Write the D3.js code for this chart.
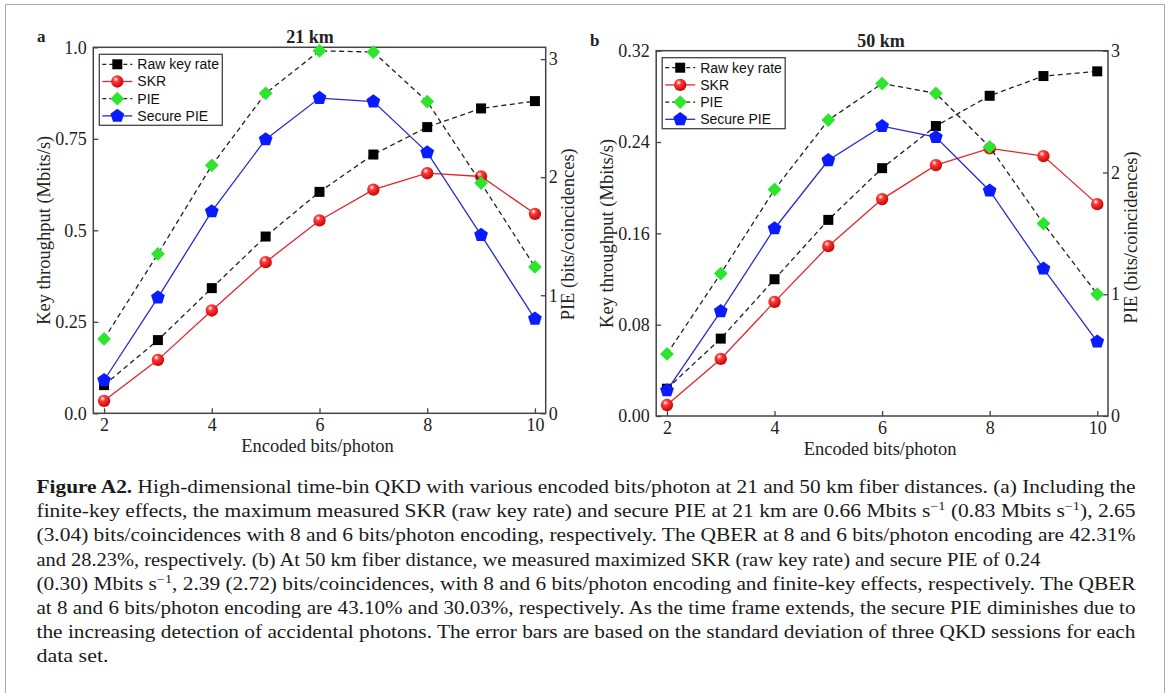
<!DOCTYPE html>
<html>
<head>
<meta charset="utf-8">
<script src="https://cdn.jsdelivr.net/npm/d3@7"></script>
<style>
  body { margin: 0; background: #fff; }
  #chart { width: 1168px; height: 693px; }
  .tick text, .axis-label, .panel-title, .panel-letter { font-family: "Liberation Serif", "Times New Roman", serif; fill: #222; }
  .legend text { font-family: "Liberation Sans", Arial, sans-serif; font-size: 14px; fill: #111; }
  .caption { font-family: "Liberation Serif", "Times New Roman", serif; font-size: 18px; fill: #1a1a1a; }
</style>
</head>
<body>
<div id="chart"></div>
<script>
// encoded bits per photon
var bits = [2, 3, 4, 5, 6, 7, 8, 9, 10];

// 21 km
var raw21  = [0.077, 0.200, 0.342, 0.483, 0.605, 0.707, 0.782, 0.833, 0.853];
var skr21  = [0.034, 0.146, 0.281, 0.413, 0.527, 0.611, 0.656, 0.647, 0.545];
var pie21  = [0.63, 1.35, 2.10, 2.71, 3.07, 3.06, 2.64, 1.95, 1.24];
var spie21 = [0.28, 0.98, 1.71, 2.32, 2.67, 2.64, 2.21, 1.51, 0.80];

// 50 km
var raw50  = [0.0239, 0.0678, 0.1198, 0.1718, 0.2171, 0.254, 0.2805, 0.2978, 0.3019];
var skr50  = [0.0096, 0.050, 0.100, 0.1488, 0.190, 0.2198, 0.2344, 0.2277, 0.1856];
var pie50  = [0.51, 1.17, 1.86, 2.43, 2.73, 2.65, 2.21, 1.58, 1.00];
var spie50 = [0.21, 0.86, 1.54, 2.10, 2.38, 2.29, 1.85, 1.21, 0.61];

var seriesNames = ["Raw key rate", "SKR", "PIE", "Secure PIE"];
var xTicks = [2, 4, 6, 8, 10];
var yTicks21 = [0, 0.25, 0.5, 0.75, 1.0];
var yTickLabels21 = ["0.0", "0.25", "0.5", "0.75", "1.0"];
var yTicks50 = [0, 0.08, 0.16, 0.24, 0.32];
var yTickLabels50 = ["0.00", "0.08", "0.16", "0.24", "0.32"];
var pieTicks = [0, 1, 2, 3];

var captionLines = [
  [["Figure A2.", "b"], [" High-dimensional time-bin QKD with various encoded bits/photon at 21 and 50 km fiber distances. (a) Including the"]],
  [["finite-key effects, the maximum measured SKR (raw key rate) and secure PIE at 21 km are 0.66 Mbits s"], ["\u22121", "s"], [" (0.83 Mbits s"], ["\u22121", "s"], ["), 2.65"]],
  [["(3.04) bits/coincidences with 8 and 6 bits/photon encoding, respectively. The QBER at 8 and 6 bits/photon encoding are 42.31%"]],
  [["and 28.23%, respectively. (b) At 50 km fiber distance, we measured maximized SKR (raw key rate) and secure PIE of 0.24"]],
  [["(0.30) Mbits s"], ["\u22121", "s"], [", 2.39 (2.72) bits/coincidences, with 8 and 6 bits/photon encoding and finite-key effects, respectively. The QBER"]],
  [["at 8 and 6 bits/photon encoding are 43.10% and 30.03%, respectively. As the time frame extends, the secure PIE diminishes due to"]],
  [["the increasing detection of accidental photons. The error bars are based on the standard deviation of three QKD sessions for each"]],
  [["data set."]]
];
var captionJustify = [true, true, true, false, true, true, true, false];

var width = 1168, height = 693;

var svg = d3.select("#chart")
  .append("svg")
  .attr("width", width)
  .attr("height", height);

// page frame
svg.append("path")
  .attr("d", "M5.5," + height + "V4.5H1164.5V" + height)
  .attr("fill", "none")
  .attr("stroke", "#a8a8a8");

var defs = svg.append("defs");
var grad = defs.append("radialGradient")
  .attr("id", "ball")
  .attr("cx", "38%").attr("cy", "32%").attr("r", "70%");
grad.append("stop").attr("offset", "0%").attr("stop-color", "#fff");
grad.append("stop").attr("offset", "30%").attr("stop-color", "#ff3a3a");
grad.append("stop").attr("offset", "100%").attr("stop-color", "#c80000");

// custom symbols
var pentagon = {
  draw: function(ctx, size) {
    var r = Math.sqrt(size / 2.378);
    for (var i = 0; i < 5; i++) {
      var a = -Math.PI / 2 + i * 2 * Math.PI / 5;
      if (i == 0) ctx.moveTo(r * Math.cos(a), r * Math.sin(a));
      else ctx.lineTo(r * Math.cos(a), r * Math.sin(a));
    }
    ctx.closePath();
  }
};
var rhombus = {
  draw: function(ctx, size) {
    var r = Math.sqrt(size / 2);
    ctx.moveTo(0, -r); ctx.lineTo(r, 0); ctx.lineTo(0, r); ctx.lineTo(-r, 0);
    ctx.closePath();
  }
};

var styles = [
  { stroke: "#222", dash: "5,3.5", sym: d3.symbolSquare, size: 100, fill: "#000" },
  { stroke: "#e3262b", dash: null, sym: d3.symbolCircle, size: 120, fill: "url(#ball)" },
  { stroke: "#222", dash: "5,3.5", sym: rhombus, size: 95, fill: "#2ee52e" },
  { stroke: "#2a2ad0", dash: null, sym: pentagon, size: 125, fill: "#0a1cff" }
];

var panels = [
  { letter: "a", letterX: 37, title: "21 km", titleX: 310, left: 93.3, right: 545.7, top: 47.3, bottom: 413.3,
    yMax: 1.0, pieMax: 3.1, yTicks: yTicks21, yLabels: yTickLabels21,
    series: [raw21, skr21, pie21, spie21] },
  { letter: "b", letterX: 590, title: "50 km", titleX: 881, left: 656.2, right: 1108, top: 50.7, bottom: 416,
    yMax: 0.32, pieMax: 3.0, yTicks: yTicks50, yLabels: yTickLabels50,
    series: [raw50, skr50, pie50, spie50] }
];

panels.forEach(function(p) {
  var g = svg.append("g");
  var x = d3.scaleLinear().domain([1.8, 10.2]).range([p.left, p.right]);
  var y = d3.scaleLinear().domain([0, p.yMax]).range([p.bottom, p.top]);
  var y2 = d3.scaleLinear().domain([0, p.pieMax]).range([p.bottom, p.top]);

  // axes
  var xa = g.append("g")
    .attr("transform", "translate(0," + p.bottom + ")")
    .call(d3.axisBottom(x).tickValues(xTicks).tickSizeInner(-5).tickSizeOuter(0).tickPadding(5));
  var ya = g.append("g")
    .attr("transform", "translate(" + p.left + ",0)")
    .call(d3.axisLeft(y).tickValues(p.yTicks).tickSizeInner(-5).tickSizeOuter(0).tickPadding(6.5)
      .tickFormat(function(d, i) { return p.yLabels[i]; }));
  var y2a = g.append("g")
    .attr("transform", "translate(" + p.right + ",0)")
    .call(d3.axisRight(y2).tickValues(pieTicks).tickSizeInner(-5).tickSizeOuter(0).tickPadding(3)
      .tickFormat(d3.format("d")));
  [xa, ya, y2a].forEach(function(a) {
    a.select(".domain").remove();
    a.selectAll(".tick line").attr("stroke", "#444").attr("stroke-width", 1.3);
    a.selectAll(".tick text").attr("font-size", 18).attr("fill", "#222");
  });

  // box
  g.append("rect")
    .attr("x", p.left).attr("y", p.top)
    .attr("width", p.right - p.left).attr("height", p.bottom - p.top)
    .attr("fill", "none").attr("stroke", "#444").attr("stroke-width", 1.5);

  // labels
  g.append("text").attr("class", "panel-letter")
    .attr("x", p.letterX).attr("y", p.top - 5)
    .attr("font-size", 17).attr("font-weight", "bold").text(p.letter);
  g.append("text").attr("class", "panel-title")
    .attr("x", p.titleX).attr("y", p.top - 4)
    .attr("text-anchor", "middle").attr("font-size", 18).attr("font-weight", "bold").text(p.title);
  g.append("text").attr("class", "axis-label")
    .attr("x", (p.left + p.right) / 2 - 2).attr("y", p.bottom + 39)
    .attr("text-anchor", "middle").attr("font-size", 18.5).text("Encoded bits/photon");
  var cy = (p.top + p.bottom) / 2;
  g.append("text").attr("class", "axis-label")
    .attr("transform", "translate(" + (p.left - 43) + "," + cy + ") rotate(-90)")
    .attr("text-anchor", "middle").attr("font-size", 18.5).text("Key throughput (Mbits/s)");
  g.append("text").attr("class", "axis-label")
    .attr("transform", "translate(" + (p.right + 28.5) + "," + (cy + 4) + ") rotate(-90)")
    .attr("text-anchor", "middle").attr("font-size", 18.5).text("PIE (bits/coincidences)");

  // series
  p.series.forEach(function(vals, si) {
    var st = styles[si];
    var sc = si < 2 ? y : y2;
    var pts = bits.map(function(b, i) { return [b, vals[i]]; });
    var line = d3.line().x(function(d) { return x(d[0]); }).y(function(d) { return sc(d[1]); });
    g.append("path")
      .attr("d", line(pts))
      .attr("fill", "none")
      .attr("stroke", st.stroke)
      .attr("stroke-width", 1.3)
      .attr("stroke-dasharray", st.dash);
    g.selectAll(".m" + si)
      .data(pts)
      .enter()
      .append("path")
      .attr("class", "m" + si)
      .attr("transform", function(d) { return "translate(" + x(d[0]) + "," + sc(d[1]) + ")"; })
      .attr("d", d3.symbol().type(st.sym).size(st.size))
      .attr("fill", st.fill);
  });

  // legend
  var lg = g.append("g").attr("class", "legend")
    .attr("transform", "translate(" + (p.left + 6) + "," + (p.top + 7) + ")");
  lg.append("rect")
    .attr("width", 123).attr("height", 71)
    .attr("fill", "#fff").attr("stroke", "#444").attr("stroke-width", 1.3);
  seriesNames.forEach(function(name, si) {
    var st = styles[si];
    var ry = 10 + si * 17.2;
    lg.append("line")
      .attr("x1", 3).attr("x2", 33).attr("y1", ry).attr("y2", ry)
      .attr("stroke", st.stroke).attr("stroke-width", 1.3)
      .attr("stroke-dasharray", st.dash ? "4,3" : null);
    lg.append("path")
      .attr("transform", "translate(18," + ry + ")")
      .attr("d", d3.symbol().type(st.sym).size(st.size))
      .attr("fill", st.fill);
    lg.append("text")
      .attr("x", 38).attr("y", ry).attr("dy", "0.35em")
      .text(name);
  });
});

// caption
var cap = svg.append("g").attr("class", "caption");
captionLines.forEach(function(segs, li) {
  var t = cap.append("text")
    .attr("x", 36.5)
    .attr("y", 493 + li * 24.2);
  var up = false;
  segs.forEach(function(s) {
    var ts = t.append("tspan").text(s[0]);
    if (s[1] == "b") ts.attr("font-weight", "bold");
    if (s[1] == "s") { ts.attr("font-size", 12).attr("dy", -7); up = true; }
    else if (up) { ts.attr("dy", 7); up = false; }
  });
  if (captionJustify[li]) t.attr("textLength", 1099).attr("lengthAdjust", "spacingAndGlyphs");
  else if (li == 3) t.attr("textLength", 1004).attr("lengthAdjust", "spacingAndGlyphs");
  else if (li == 7) t.attr("textLength", 72).attr("lengthAdjust", "spacingAndGlyphs");
});
</script>
</body>
</html>
